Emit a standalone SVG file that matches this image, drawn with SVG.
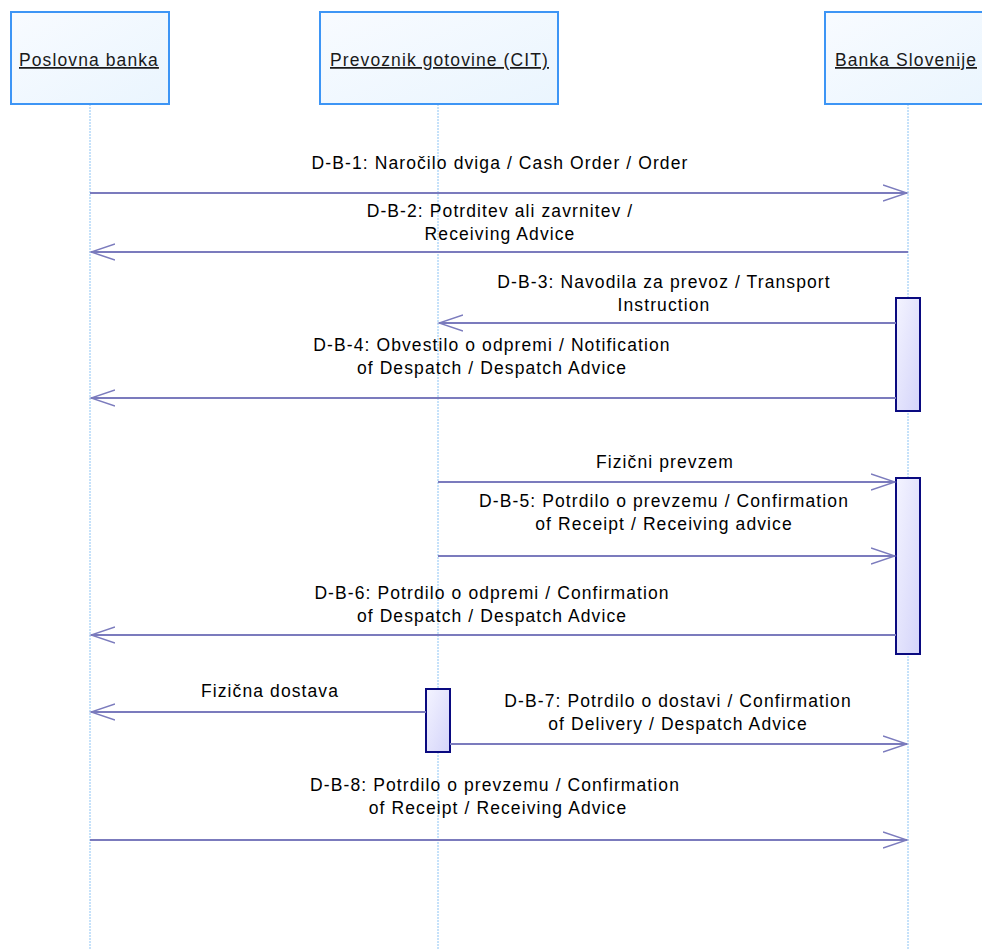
<svg xmlns="http://www.w3.org/2000/svg" width="982" height="949" viewBox="0 0 982 949">
<defs>
<linearGradient id="hdr" x1="0" y1="0" x2="1" y2="1">
<stop offset="0" stop-color="#f8fbff"/><stop offset="1" stop-color="#eaf5fe"/>
</linearGradient>
<linearGradient id="act" x1="0" y1="0" x2="1" y2="1">
<stop offset="0" stop-color="#f4f4ff"/><stop offset="1" stop-color="#d4d4fa"/>
</linearGradient>
<marker id="ah" markerWidth="26" markerHeight="20" refX="24" refY="10" orient="auto" markerUnits="userSpaceOnUse">
<path d="M0,2 L24,10 L0,18" fill="none" stroke="#7b7bbd" stroke-width="1.5"/>
</marker>
</defs>
<style>
.hdr{fill:url(#hdr);stroke:#3d95f5;stroke-width:2}
.hl{font-family:"Liberation Sans",Arial,sans-serif;font-size:17.5px;letter-spacing:1.1px;fill:#1a1a1a;text-decoration:underline}
.life{stroke:#8cc4f5;stroke-width:1;stroke-dasharray:2,1}
.act{fill:url(#act);stroke:#0a0a80;stroke-width:2}
.msg{stroke:#7b7bbd;stroke-width:2;fill:none;marker-end:url(#ah)}
.lb{font-family:"Liberation Sans",Arial,sans-serif;font-size:17.5px;letter-spacing:1.1px;fill:#000;text-anchor:middle}
</style>
<rect width="982" height="949" fill="#fff"/>
<g id="lifelines">
<line class="life" x1="90" y1="104" x2="90" y2="949"/>
<line class="life" x1="438" y1="104" x2="438" y2="949"/>
<line class="life" x1="908" y1="104" x2="908" y2="949"/>
</g>
<g id="node-poslovna">
<rect class="hdr" x="11" y="12" width="158" height="92"/>
<text class="hl" x="19" y="66">Poslovna banka</text>
</g>
<g id="node-cit">
<rect class="hdr" x="320" y="12" width="238" height="92"/>
<text class="hl" x="330" y="66">Prevoznik gotovine (CIT)</text>
</g>
<g id="node-bs">
<rect class="hdr" x="825" y="12" width="170" height="92"/>
<text class="hl" x="835" y="66">Banka Slovenije</text>
</g>
<g id="act-bs-1"><rect class="act" x="896" y="298" width="24" height="113"/></g>
<g id="act-bs-2"><rect class="act" x="896" y="478" width="24" height="176"/></g>
<g id="act-cit"><rect class="act" x="426" y="689" width="24" height="63"/></g>
<g id="connectors">
<line class="msg" x1="90" y1="193" x2="907" y2="193"/>
<line class="msg" x1="908" y1="252" x2="91" y2="252"/>
<line class="msg" x1="896" y1="323" x2="439" y2="323"/>
<line class="msg" x1="896" y1="398" x2="91" y2="398"/>
<line class="msg" x1="438" y1="482" x2="895" y2="482"/>
<line class="msg" x1="438" y1="556" x2="895" y2="556"/>
<line class="msg" x1="896" y1="635" x2="91" y2="635"/>
<line class="msg" x1="426" y1="712" x2="91" y2="712"/>
<line class="msg" x1="450" y1="744" x2="907" y2="744"/>
<line class="msg" x1="90" y1="840" x2="907" y2="840"/>
</g>
<g id="labels">
<text class="lb" x="500" y="169">D-B-1: Naročilo dviga / Cash Order / Order</text>
<text class="lb" x="500" y="217">D-B-2: Potrditev ali zavrnitev /</text>
<text class="lb" x="500" y="240">Receiving Advice</text>
<text class="lb" x="664" y="288">D-B-3: Navodila za prevoz / Transport</text>
<text class="lb" x="664" y="311">Instruction</text>
<text class="lb" x="492" y="351">D-B-4: Obvestilo o odpremi / Notification</text>
<text class="lb" x="492" y="374">of Despatch / Despatch Advice</text>
<text class="lb" x="665" y="468">Fizični prevzem</text>
<text class="lb" x="664" y="507">D-B-5: Potrdilo o prevzemu / Confirmation</text>
<text class="lb" x="664" y="530">of Receipt / Receiving advice</text>
<text class="lb" x="492" y="599">D-B-6: Potrdilo o odpremi / Confirmation</text>
<text class="lb" x="492" y="622">of Despatch / Despatch Advice</text>
<text class="lb" x="270" y="697">Fizična dostava</text>
<text class="lb" x="678" y="707">D-B-7: Potrdilo o dostavi / Confirmation</text>
<text class="lb" x="678" y="730">of Delivery / Despatch Advice</text>
<text class="lb" x="495" y="791">D-B-8: Potrdilo o prevzemu / Confirmation</text>
<text class="lb" x="498" y="814">of Receipt / Receiving Advice</text>
</g>
</svg>
